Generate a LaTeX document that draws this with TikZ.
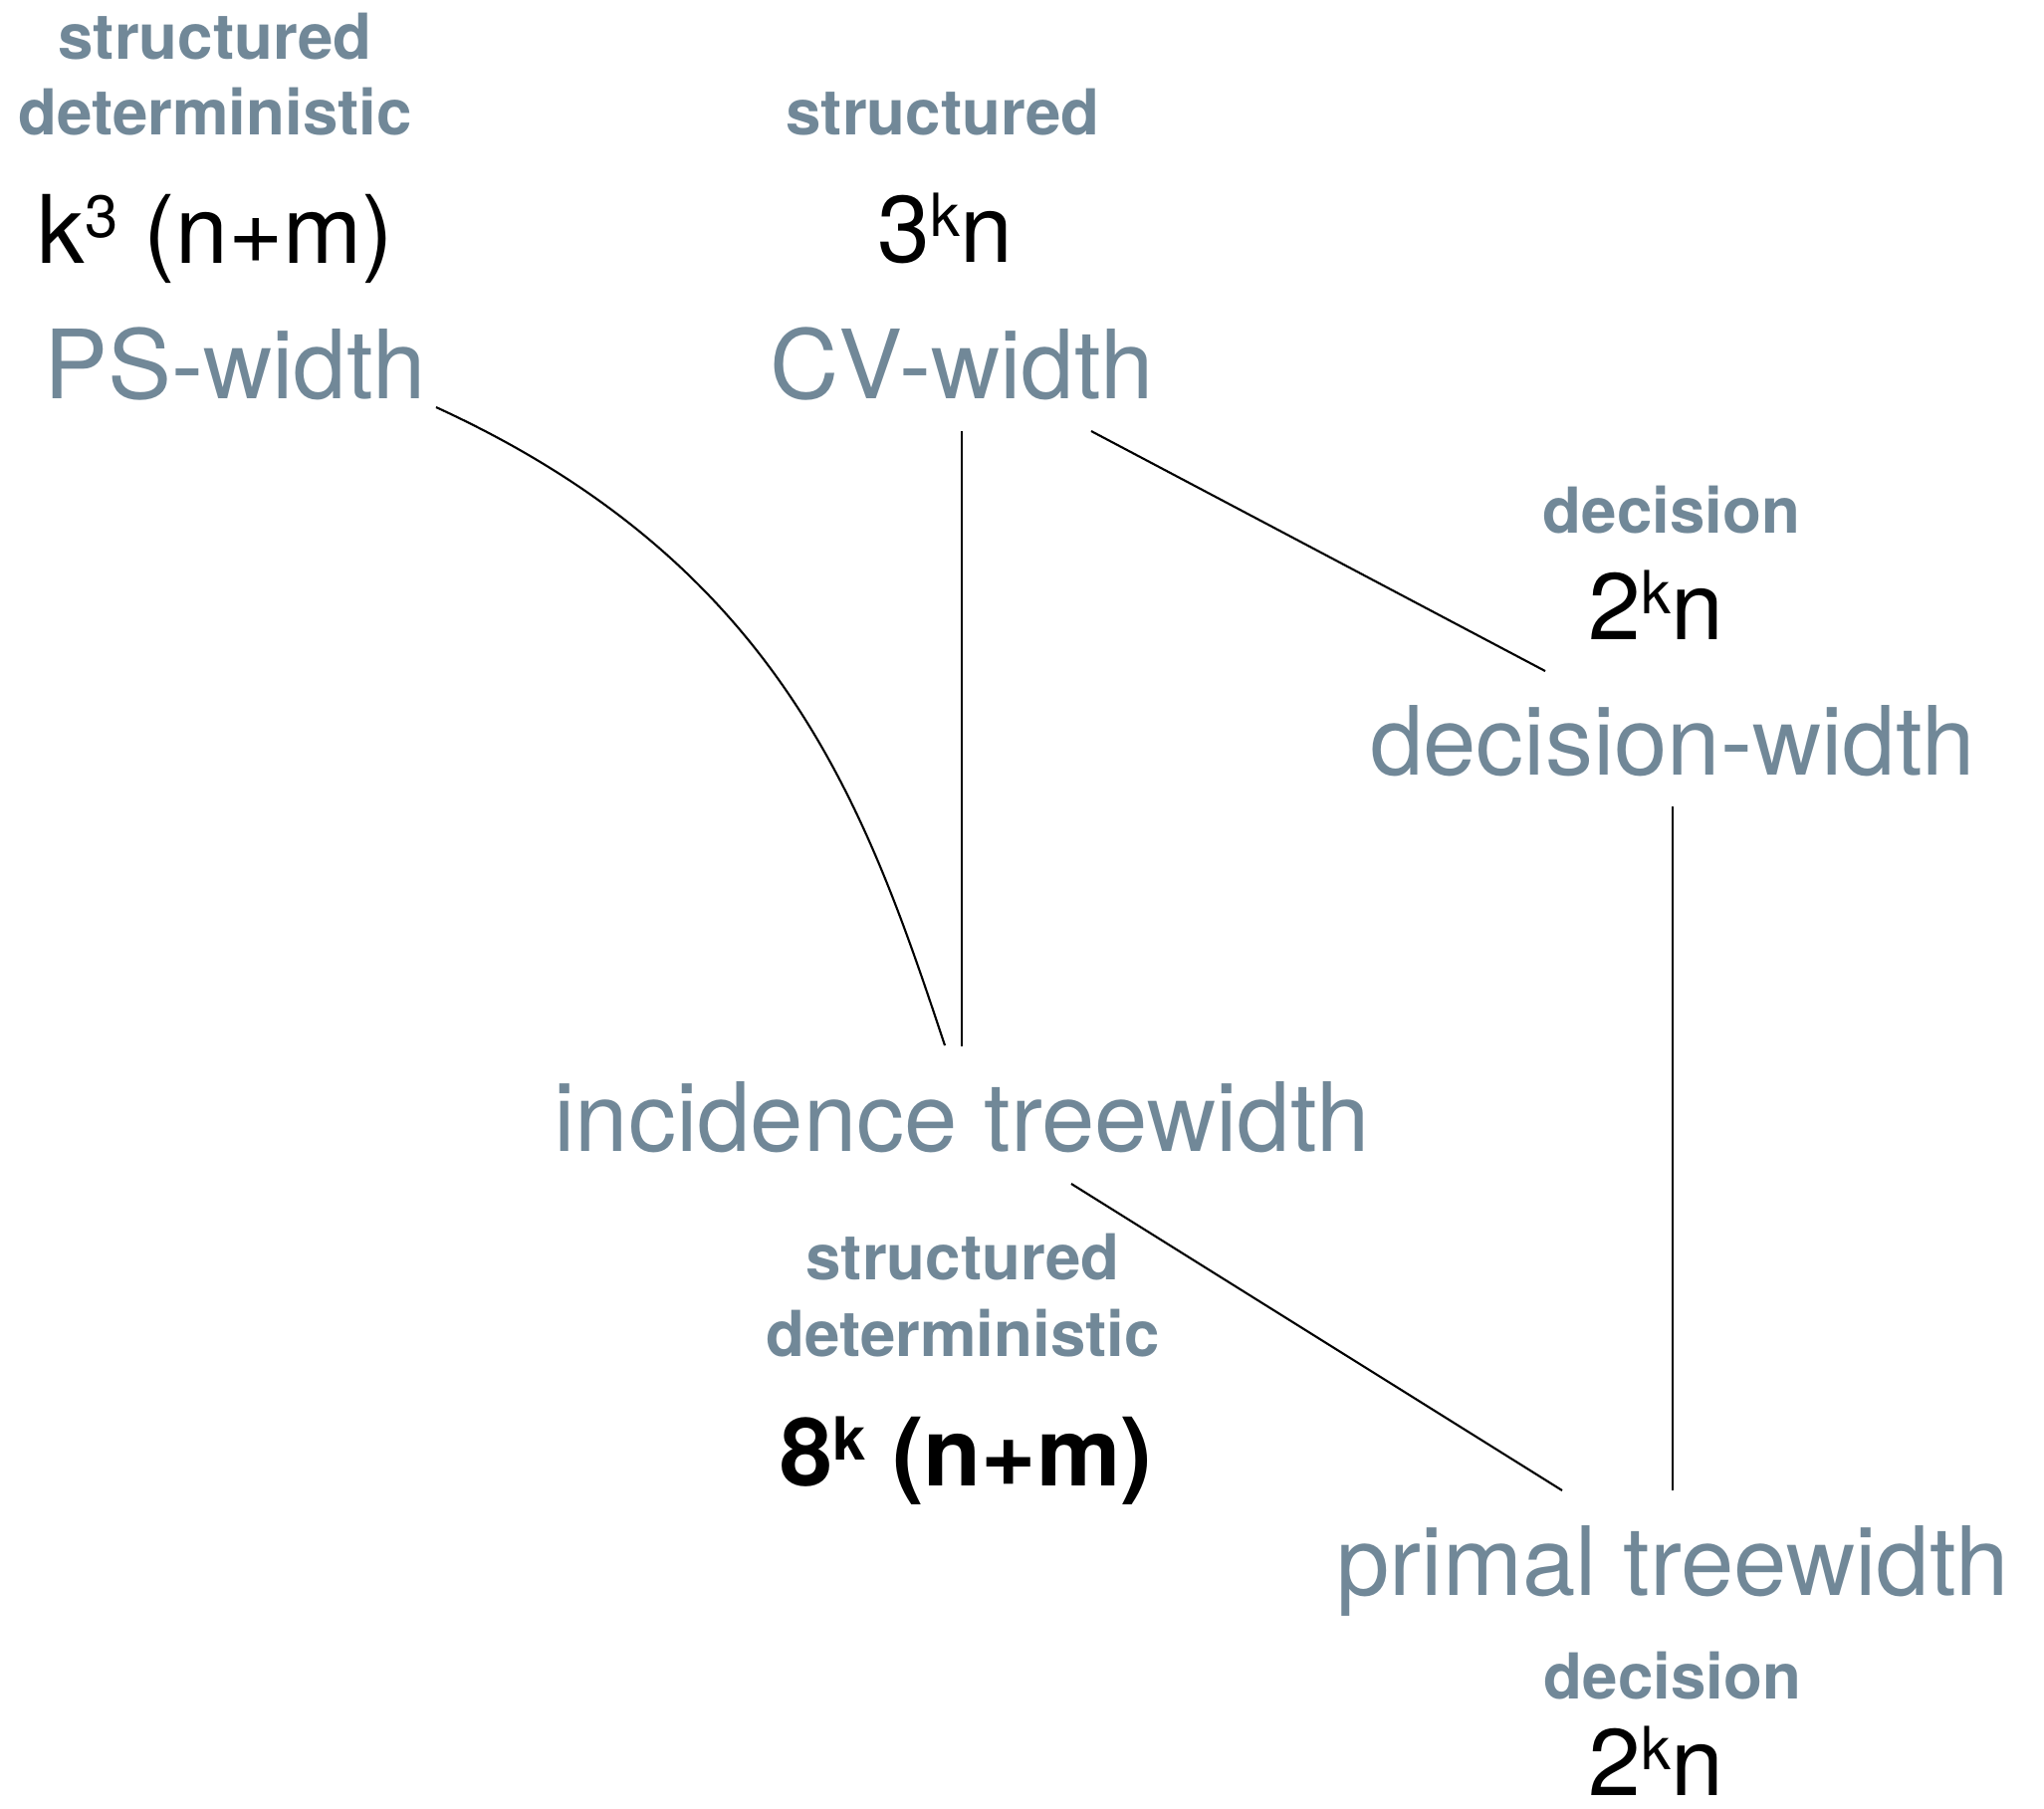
\documentclass[tikz,border=0pt]{standalone}
\usepackage{fontspec}
\setmainfont{TeX Gyre Heros}
\usetikzlibrary{calc}
\definecolor{slate}{HTML}{718898}
\tikzset{
  measure/.style={font=\fontsize{27.3}{30}\selectfont, text=slate, inner sep=0pt, anchor=base},
  kind/.style={font=\fontsize{18.1}{21}\selectfont\bfseries, text=slate, inner sep=0pt, anchor=base},
  cost/.style={font=\fontsize{27}{30}\selectfont, text=black, inner sep=0pt, anchor=base west},
  costbold/.style={cost, font=\fontsize{27}{30}\selectfont\bfseries},
  link/.style={line width=0.6pt, draw=black},
}
\newcommand{\supx}[1]{\raisebox{7.2pt}{\fontsize{17}{17}\selectfont #1}}
\begin{document}
\begin{tikzpicture}[x=0.01cm, y=-0.01cm]
\useasboundingbox (0,0) rectangle (2053,1817);

% PS-width column
\node[kind] (tl1) at (216,59) {structured};
\node[kind] (tl2) at (216,135) {deterministic};
\node[cost] (psc) at (37,264) {k\supx{3} (n+m)};
\node[measure] (ps) at (236,400) {PS-width};

% CV-width column
\node[kind] (cvk) at (947,135) {structured};
\node[cost] (cvc) at (881,263) {3\supx{k}n};
\node[measure] (cv) at (966,400) {CV-width};

% decision-width
\node[kind] (dwk) at (1679,535) {decision};
\node[cost] (dwc) at (1595,642) {2\supx{k}n};
\node[measure] (dw) at (1680,778) {decision-width};

% incidence treewidth
\node[measure] (inc) at (966,1156) {incidence treewidth};
\node[kind] (inck1) at (967,1285) {structured};
\node[kind] (inck2) at (967,1362) {deterministic};
\node[costbold] (incc) at (783,1492) {8\supx{k} (n+m)};

% primal treewidth
\node[measure] (pt) at (1680,1602) {primal treewidth};
\node[kind] (ptk) at (1680,1706) {decision};
\node[cost] (ptc) at (1595,1803) {2\supx{k}n};

% connectors
\draw[link] ($(ps.base)+(202,9)$) .. controls ($(ps.base)+(549,168)$) and ($(inc.base)+(-96,-344)$) .. ($(inc.base)+(-17,-106)$);
\draw[link] ($(cv.base)+(0,33)$) -- ($(inc.base)+(0,-105)$);
\draw[link] ($(cv.base)+(130,33)$) -- ($(dw.base)+(-128,-104)$);
\draw[link] ($(dw.base)+(0,32)$) -- ($(pt.base)+(0,-105)$);
\draw[link] ($(inc.base)+(110,33)$) -- ($(pt.base)+(-111,-105)$);
\end{tikzpicture}
\end{document}
